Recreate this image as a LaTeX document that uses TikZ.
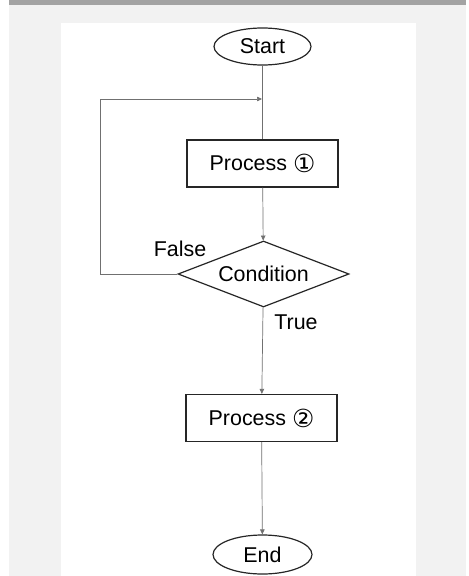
\documentclass[tikz,border=0pt]{standalone}
\usepackage{fontspec}
\setmainfont{Liberation Sans}
\newfontfamily\circfont{DejaVu Sans}
\usetikzlibrary{shapes,shapes.geometric,arrows.meta}
\definecolor{barg}{HTML}{A3A3A3}
\definecolor{bgg}{HTML}{F2F2F2}
\definecolor{lng}{HTML}{707070}
\tikzstyle{term}=[ellipse,draw=black!85,line width=1.2bp,minimum width=97bp,minimum height=37bp,inner sep=0pt]
\tikzstyle{proc}=[rectangle,draw=black!85,line width=1.2bp,minimum width=151bp,minimum height=47bp,inner sep=0pt]
\tikzstyle{cond}=[diamond,draw=black!85,line width=1.2bp,aspect=2.6,minimum width=171bp,minimum height=66bp,inner sep=0pt]
\tikzstyle{ln}=[draw=lng,line width=0.7bp,-{Triangle[length=5bp,width=4.5bp]}]
\newcommand{\circd}[1]{\raisebox{-2bp}[0pt][0pt]{\circfont\fontsize{25}{25}\selectfont #1}}

\begin{document}
\begin{tikzpicture}[x=1bp,y=-1bp,font=\fontsize{21.5}{24}\selectfont]
\useasboundingbox (0,0) rectangle (469,576);
\fill[barg] (9,0) rectangle (466,5);
\fill[bgg] (9,5) rectangle (466,576);
\fill[white] (61,23) rectangle (416,576);
\node[term] (st) at (262.5,46.5) {Start};
\node[proc] (p1) at (262.5,163.5) {Process \circd{①}};
\node[cond] (cd) at (263.5,274) {Condition};
\node[proc] (p2) at (261.5,418) {Process \circd{②}};
\node[term,minimum width=99bp,minimum height=39bp] (en) at (262.5,554.5) {End};
\coordinate (jn) at (262,99);
\coordinate (lp) at (100,274);
\draw[ln,-] (st) -- (p1);
\draw[ln] (p1) -- (cd);
\draw[ln] (cd) -- (p2);
\draw[ln] (p2) -- (en);
\draw[ln] (cd.west) -- (lp) |- (jn);
\node (fl) at (180,249) {False};
\node (tr) at (296,322) {True};
\end{tikzpicture}
\end{document}
